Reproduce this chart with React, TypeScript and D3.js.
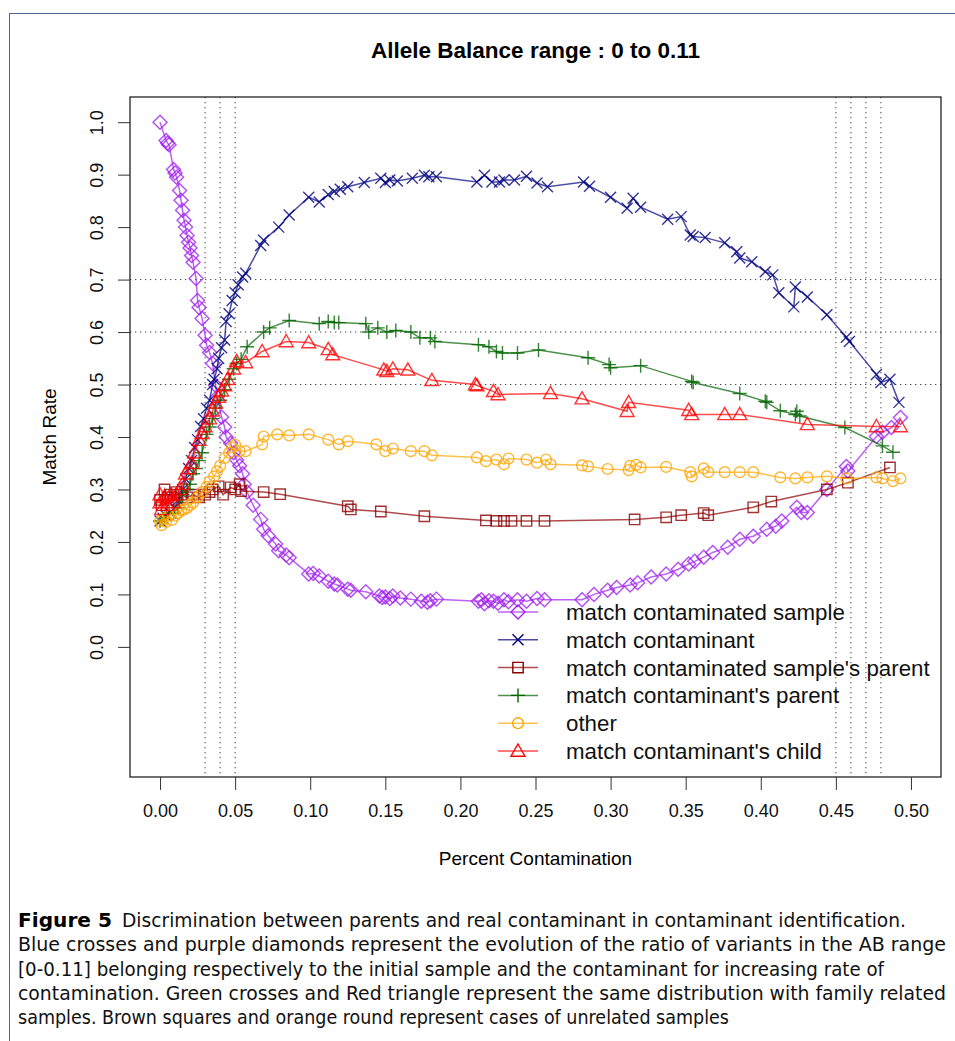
import { useEffect, useRef } from "react";
import * as d3 from "d3";

// match contaminated sample (purple diamonds)
const sampleX = [0, 0.004, 0.005, 0.006, 0.009, 0.01, 0.011, 0.013, 0.014, 0.015, 0.016, 0.017, 0.018, 0.019, 0.02, 0.021, 0.022, 0.024, 0.025, 0.026, 0.028, 0.03, 0.031, 0.033, 0.035, 0.037, 0.038, 0.041, 0.043, 0.044, 0.047, 0.049, 0.051, 0.053, 0.055, 0.056, 0.058, 0.062, 0.067, 0.069, 0.072, 0.077, 0.079, 0.084, 0.086, 0.099, 0.102, 0.106, 0.112, 0.116, 0.118, 0.125, 0.127, 0.137, 0.146, 0.148, 0.15, 0.153, 0.155, 0.16, 0.167, 0.174, 0.178, 0.18, 0.184, 0.212, 0.214, 0.216, 0.219, 0.222, 0.225, 0.229, 0.232, 0.238, 0.244, 0.251, 0.256, 0.281, 0.289, 0.298, 0.304, 0.313, 0.318, 0.327, 0.337, 0.345, 0.352, 0.356, 0.362, 0.368, 0.378, 0.386, 0.395, 0.404, 0.41, 0.414, 0.424, 0.427, 0.431, 0.444, 0.457, 0.458, 0.477, 0.481, 0.487, 0.493];
const sampleY = [1.0, 0.965, 0.96, 0.957, 0.91, 0.903, 0.895, 0.87, 0.851, 0.832, 0.813, 0.8, 0.784, 0.771, 0.76, 0.746, 0.733, 0.702, 0.66, 0.647, 0.626, 0.594, 0.575, 0.561, 0.54, 0.498, 0.476, 0.438, 0.419, 0.4, 0.388, 0.37, 0.356, 0.345, 0.33, 0.31, 0.295, 0.27, 0.243, 0.224, 0.212, 0.196, 0.183, 0.175, 0.17, 0.139, 0.14, 0.135, 0.125, 0.12, 0.118, 0.11, 0.108, 0.105, 0.097, 0.094, 0.095, 0.092, 0.097, 0.093, 0.091, 0.087, 0.085, 0.088, 0.091, 0.087, 0.09, 0.082, 0.088, 0.087, 0.083, 0.09, 0.086, 0.09, 0.087, 0.092, 0.09, 0.09, 0.1, 0.108, 0.113, 0.118, 0.122, 0.133, 0.139, 0.148, 0.158, 0.163, 0.171, 0.18, 0.19, 0.205, 0.211, 0.224, 0.23, 0.24, 0.266, 0.256, 0.256, 0.3, 0.344, 0.335, 0.401, 0.409, 0.418, 0.437];

// match contaminant (navy crosses)
const contX = [0, 0.002, 0.004, 0.007, 0.01, 0.012, 0.015, 0.017, 0.019, 0.021, 0.023, 0.025, 0.027, 0.029, 0.031, 0.033, 0.035, 0.036, 0.038, 0.039, 0.041, 0.043, 0.044, 0.046, 0.048, 0.05, 0.052, 0.055, 0.057, 0.067, 0.069, 0.079, 0.086, 0.099, 0.106, 0.112, 0.116, 0.12, 0.125, 0.136, 0.147, 0.15, 0.153, 0.158, 0.168, 0.176, 0.179, 0.184, 0.211, 0.216, 0.221, 0.226, 0.229, 0.236, 0.244, 0.251, 0.258, 0.282, 0.286, 0.3, 0.311, 0.315, 0.32, 0.338, 0.347, 0.353, 0.355, 0.363, 0.376, 0.384, 0.386, 0.394, 0.403, 0.408, 0.412, 0.422, 0.423, 0.431, 0.444, 0.457, 0.459, 0.477, 0.48, 0.486, 0.492];
const contY = [0.24, 0.245, 0.25, 0.255, 0.265, 0.28, 0.3, 0.32, 0.34, 0.355, 0.38, 0.395, 0.42, 0.435, 0.455, 0.47, 0.5, 0.51, 0.53, 0.55, 0.57, 0.585, 0.62, 0.635, 0.66, 0.675, 0.69, 0.705, 0.712, 0.765, 0.775, 0.8, 0.823, 0.857, 0.848, 0.862, 0.868, 0.872, 0.877, 0.885, 0.893, 0.885, 0.89, 0.888, 0.893, 0.899, 0.896, 0.896, 0.886, 0.899, 0.886, 0.886, 0.89, 0.89, 0.897, 0.884, 0.877, 0.886, 0.878, 0.857, 0.836, 0.855, 0.838, 0.815, 0.82, 0.785, 0.782, 0.78, 0.77, 0.753, 0.741, 0.734, 0.715, 0.709, 0.675, 0.648, 0.686, 0.667, 0.633, 0.59, 0.582, 0.519, 0.504, 0.51, 0.466];

// match contaminated sample's parent (dark red squares)
const sParentX = [0, 0.001, 0.003, 0.005, 0.007, 0.009, 0.011, 0.014, 0.018, 0.022, 0.026, 0.03, 0.033, 0.035, 0.039, 0.042, 0.047, 0.05, 0.053, 0.054, 0.069, 0.08, 0.125, 0.127, 0.147, 0.176, 0.217, 0.224, 0.229, 0.234, 0.244, 0.256, 0.316, 0.337, 0.347, 0.362, 0.365, 0.395, 0.407, 0.444, 0.458, 0.486];
const sParentY = [0.28, 0.27, 0.3, 0.285, 0.29, 0.28, 0.295, 0.29, 0.285, 0.29, 0.285, 0.29, 0.295, 0.3, 0.306, 0.29, 0.304, 0.3, 0.31, 0.297, 0.295, 0.291, 0.268, 0.262, 0.258, 0.249, 0.241, 0.24, 0.24, 0.24, 0.24, 0.24, 0.243, 0.247, 0.251, 0.255, 0.251, 0.266, 0.277, 0.3, 0.313, 0.342];

// match contaminant's parent (dark green plus)
const cParentX = [0, 0.003, 0.006, 0.009, 0.012, 0.015, 0.018, 0.02, 0.022, 0.024, 0.026, 0.028, 0.031, 0.033, 0.035, 0.037, 0.04, 0.043, 0.046, 0.049, 0.051, 0.054, 0.058, 0.069, 0.073, 0.086, 0.106, 0.112, 0.116, 0.119, 0.137, 0.139, 0.145, 0.151, 0.157, 0.167, 0.173, 0.18, 0.183, 0.212, 0.219, 0.224, 0.228, 0.238, 0.252, 0.285, 0.299, 0.3, 0.32, 0.354, 0.355, 0.386, 0.403, 0.404, 0.413, 0.423, 0.424, 0.426, 0.456, 0.481, 0.488];
const cParentY = [0.24, 0.245, 0.255, 0.255, 0.265, 0.29, 0.3, 0.31, 0.33, 0.34, 0.355, 0.37, 0.405, 0.419, 0.435, 0.455, 0.47, 0.49, 0.51, 0.53, 0.54, 0.548, 0.572, 0.6, 0.608, 0.622, 0.616, 0.62, 0.618, 0.618, 0.616, 0.6, 0.608, 0.6, 0.603, 0.6, 0.589, 0.589, 0.582, 0.576, 0.572, 0.563, 0.56, 0.56, 0.566, 0.551, 0.538, 0.532, 0.536, 0.506, 0.504, 0.483, 0.468, 0.466, 0.45, 0.443, 0.449, 0.44, 0.418, 0.383, 0.371];

// other (orange circles)
const otherX = [0, 0.001, 0.002, 0.004, 0.006, 0.008, 0.01, 0.012, 0.014, 0.016, 0.018, 0.02, 0.022, 0.025, 0.028, 0.031, 0.033, 0.036, 0.038, 0.04, 0.043, 0.046, 0.048, 0.05, 0.053, 0.057, 0.068, 0.069, 0.078, 0.086, 0.099, 0.112, 0.119, 0.125, 0.144, 0.15, 0.155, 0.167, 0.176, 0.181, 0.211, 0.217, 0.224, 0.229, 0.232, 0.244, 0.251, 0.257, 0.26, 0.281, 0.285, 0.298, 0.312, 0.313, 0.317, 0.32, 0.337, 0.353, 0.354, 0.362, 0.365, 0.376, 0.386, 0.395, 0.413, 0.423, 0.431, 0.444, 0.457, 0.477, 0.481, 0.488, 0.493];
const otherY = [0.24, 0.232, 0.245, 0.238, 0.25, 0.242, 0.25, 0.255, 0.26, 0.262, 0.265, 0.27, 0.275, 0.285, 0.295, 0.305, 0.315, 0.325, 0.335, 0.345, 0.36, 0.37, 0.38, 0.385, 0.373, 0.373, 0.386, 0.401, 0.405, 0.403, 0.405, 0.395, 0.386, 0.392, 0.386, 0.373, 0.378, 0.373, 0.373, 0.365, 0.361, 0.354, 0.357, 0.348, 0.359, 0.357, 0.351, 0.357, 0.348, 0.346, 0.344, 0.339, 0.337, 0.345, 0.347, 0.342, 0.343, 0.333, 0.325, 0.34, 0.333, 0.333, 0.333, 0.333, 0.323, 0.321, 0.323, 0.325, 0.321, 0.323, 0.321, 0.316, 0.321];

// match contaminant's child (red triangles)
const childX = [0, 0, 0.001, 0.003, 0.005, 0.007, 0.009, 0.011, 0.013, 0.015, 0.017, 0.019, 0.021, 0.023, 0.026, 0.028, 0.03, 0.033, 0.035, 0.037, 0.039, 0.041, 0.043, 0.045, 0.049, 0.051, 0.057, 0.068, 0.084, 0.099, 0.112, 0.115, 0.149, 0.151, 0.155, 0.165, 0.181, 0.21, 0.211, 0.222, 0.225, 0.26, 0.281, 0.311, 0.312, 0.352, 0.354, 0.376, 0.386, 0.431, 0.477, 0.493];
const childY = [0.29, 0.275, 0.262, 0.285, 0.27, 0.29, 0.275, 0.29, 0.3, 0.31, 0.33, 0.34, 0.35, 0.37, 0.394, 0.407, 0.42, 0.435, 0.45, 0.465, 0.476, 0.488, 0.498, 0.51, 0.53, 0.544, 0.542, 0.563, 0.582, 0.58, 0.567, 0.557, 0.528, 0.525, 0.53, 0.528, 0.508, 0.5, 0.498, 0.487, 0.481, 0.483, 0.473, 0.449, 0.466, 0.451, 0.443, 0.443, 0.443, 0.424, 0.42, 0.42];

const seriesNames = [
  "match contaminated sample",
  "match contaminant",
  "match contaminated sample's parent",
  "match contaminant's parent",
  "other",
  "match contaminant's child",
];
const seriesColors = ["#a020f0", "#000080", "#8b0000", "#006400", "#ffa500", "#ff0000"];
const seriesShapes = ["diamond", "cross", "square", "plus", "circle", "triangle"];
const seriesXs = [sampleX, contX, sParentX, cParentX, otherX, childX];
const seriesYs = [sampleY, contY, sParentY, cParentY, otherY, childY];

const xTicks = [0, 0.05, 0.1, 0.15, 0.2, 0.25, 0.3, 0.35, 0.4, 0.45, 0.5];
const yTicks = [0, 0.1, 0.2, 0.3, 0.4, 0.5, 0.6, 0.7, 0.8, 0.9, 1.0];
const hRefs = [0.5, 0.6, 0.7];
const vRefs = [0.03, 0.04, 0.05, 0.45, 0.46, 0.47, 0.48];

const captionLines = [
  "Discrimination between parents and real contaminant in contaminant identification.",
  "Blue crosses and purple diamonds represent the evolution of the ratio of variants in the AB range",
  "[0-0.11] belonging respectively to the initial sample and the contaminant for increasing rate of",
  "contamination. Green crosses and Red triangle represent the same distribution with family related",
  "samples. Brown squares and orange round represent cases of unrelated samples",
];

function symbolPath(shape: string, x: number, y: number): string {
  const p = d3.path();
  if (shape === "diamond") {
    const s = 7;
    p.moveTo(x, y - s); p.lineTo(x + s, y); p.lineTo(x, y + s); p.lineTo(x - s, y); p.closePath();
  } else if (shape === "cross") {
    const s = 5.5;
    p.moveTo(x - s, y - s); p.lineTo(x + s, y + s);
    p.moveTo(x - s, y + s); p.lineTo(x + s, y - s);
  } else if (shape === "square") {
    p.rect(x - 5.2, y - 5.2, 10.4, 10.4);
  } else if (shape === "plus") {
    const s = 7;
    p.moveTo(x - s, y); p.lineTo(x + s, y);
    p.moveTo(x, y - s); p.lineTo(x, y + s);
  } else if (shape === "circle") {
    p.moveTo(x + 5.4, y); p.arc(x, y, 5.4, 0, Math.PI * 2);
  } else {
    p.moveTo(x, y - 7); p.lineTo(x + 7, y + 5.2); p.lineTo(x - 7, y + 5.2); p.closePath();
  }
  return p.toString();
}

export default function App() {
  const ref = useRef<SVGSVGElement>(null);

  useEffect(() => {
    if (!ref.current) return;
    const svg = d3.select(ref.current);
    svg.selectAll("*").remove();

    const font = "'Liberation Sans', Arial, sans-serif";
    const x = d3.scaleLinear().domain([-0.02, 0.52]).range([130, 941]);
    const y = d3.scaleLinear().domain([-0.248, 1.048]).range([777, 97]);

    // page frame
    svg.append("rect").attr("x", 9.5).attr("y", 13.5).attr("width", 980).attr("height", 1100)
      .attr("fill", "none").attr("stroke", "#4f6a88").attr("stroke-width", 1);

    // title
    svg.append("text").attr("x", 535.5).attr("y", 58).attr("text-anchor", "middle")
      .style("font-family", font).style("font-size", "22.5px").style("font-weight", "bold")
      .text("Allele Balance range : 0 to 0.11");

    // reference lines
    svg.append("g").selectAll("line").data(hRefs).enter().append("line")
      .attr("x1", 130).attr("x2", 941).attr("y1", (d) => y(d)).attr("y2", (d) => y(d))
      .attr("stroke", "#444").attr("stroke-width", 1).attr("stroke-dasharray", "1.3,3.7");
    svg.append("g").selectAll("line").data(vRefs).enter().append("line")
      .attr("x1", (d) => x(d)).attr("x2", (d) => x(d)).attr("y1", 97).attr("y2", 777)
      .attr("stroke", "#444").attr("stroke-width", 1).attr("stroke-dasharray", "1.3,3.7");

    // series
    const plot = svg.append("g");
    seriesNames.forEach((name, i) => {
      const pts = seriesXs[i].map((v, j) => [v, seriesYs[i][j]] as [number, number]);
      const line = d3.line<[number, number]>().x((d) => x(d[0])).y((d) => y(d[1]));
      const g = plot.append("g").attr("class", name);
      g.append("path").attr("d", line(pts)).attr("fill", "none")
        .attr("stroke", seriesColors[i]).attr("stroke-opacity", 0.7).attr("stroke-width", 1.5);
      g.selectAll("path.pt").data(pts).enter().append("path").attr("class", "pt")
        .attr("d", (d) => symbolPath(seriesShapes[i], x(d[0]), y(d[1])))
        .attr("fill", "none").attr("stroke", seriesColors[i]).attr("stroke-opacity", 0.8)
        .attr("stroke-width", 1.4);
    });

    // box
    svg.append("rect").attr("x", 130).attr("y", 97).attr("width", 811).attr("height", 680)
      .attr("fill", "none").attr("stroke", "#111").attr("stroke-width", 1.2);

    // x axis
    const xAxis = svg.append("g").attr("transform", "translate(0,777)")
      .call(d3.axisBottom(x).tickValues(xTicks).tickSize(13).tickPadding(14).tickFormat(d3.format(".2f")));
    xAxis.select(".domain").remove();
    xAxis.selectAll("line").attr("stroke", "#333");
    xAxis.selectAll("text").style("font-family", font).style("font-size", "18px").attr("fill", "#111");

    // y axis
    const yAxis = svg.append("g").attr("transform", "translate(130,0)")
      .call(d3.axisLeft(y).tickValues(yTicks).tickSize(12).tickFormat(d3.format(".1f")));
    yAxis.select(".domain").remove();
    yAxis.selectAll("line").attr("stroke", "#333");
    yAxis.selectAll("text")
      .attr("x", 0).attr("dy", null).attr("text-anchor", "middle")
      .attr("transform", "translate(-27,0) rotate(-90)")
      .style("font-family", font).style("font-size", "18px").attr("fill", "#111");

    // axis titles
    svg.append("text").attr("x", 535.5).attr("y", 865).attr("text-anchor", "middle")
      .style("font-family", font).style("font-size", "19px").text("Percent Contamination");
    svg.append("text").attr("transform", "translate(56,437) rotate(-90)").attr("text-anchor", "middle")
      .style("font-family", font).style("font-size", "19px").text("Match Rate");

    // legend
    const legend = svg.append("g");
    seriesNames.forEach((name, i) => {
      const ly = 612 + i * 27.8;
      legend.append("line").attr("x1", 498).attr("x2", 538).attr("y1", ly).attr("y2", ly)
        .attr("stroke", seriesColors[i]).attr("stroke-opacity", 0.7).attr("stroke-width", 1.5);
      legend.append("path").attr("d", symbolPath(seriesShapes[i], 518, ly))
        .attr("fill", "none").attr("stroke", seriesColors[i]).attr("stroke-width", 1.4);
      legend.append("text").attr("x", 566).attr("y", ly + 8)
        .style("font-family", font).style("font-size", "22.3px").attr("fill", "#111").text(name);
    });

    // caption
    const capFont = "'Liberation Sans Narrow', 'DejaVu Sans Condensed', 'Liberation Sans', sans-serif";
    const capEnds = [906, 946, 884, 946, 729];
    svg.append("text").attr("x", 18).attr("y", 927)
      .style("font-family", capFont).style("font-size", "19px").style("font-weight", "bold")
      .attr("textLength", 94).attr("lengthAdjust", "spacingAndGlyphs").text("Figure 5");
    captionLines.forEach((t, i) => {
      const x0 = i === 0 ? 122 : 18;
      svg.append("text").attr("x", x0).attr("y", 927 + i * 24.3)
        .style("font-family", capFont).style("font-size", "19px").attr("fill", "#111")
        .attr("textLength", capEnds[i] - x0).attr("lengthAdjust", "spacingAndGlyphs").text(t);
    });
  }, []);

  return (
    <svg ref={ref} width={955} height={1041} style={{ position: "absolute", left: 0, top: 0, background: "#fff" }} />
  );
}
